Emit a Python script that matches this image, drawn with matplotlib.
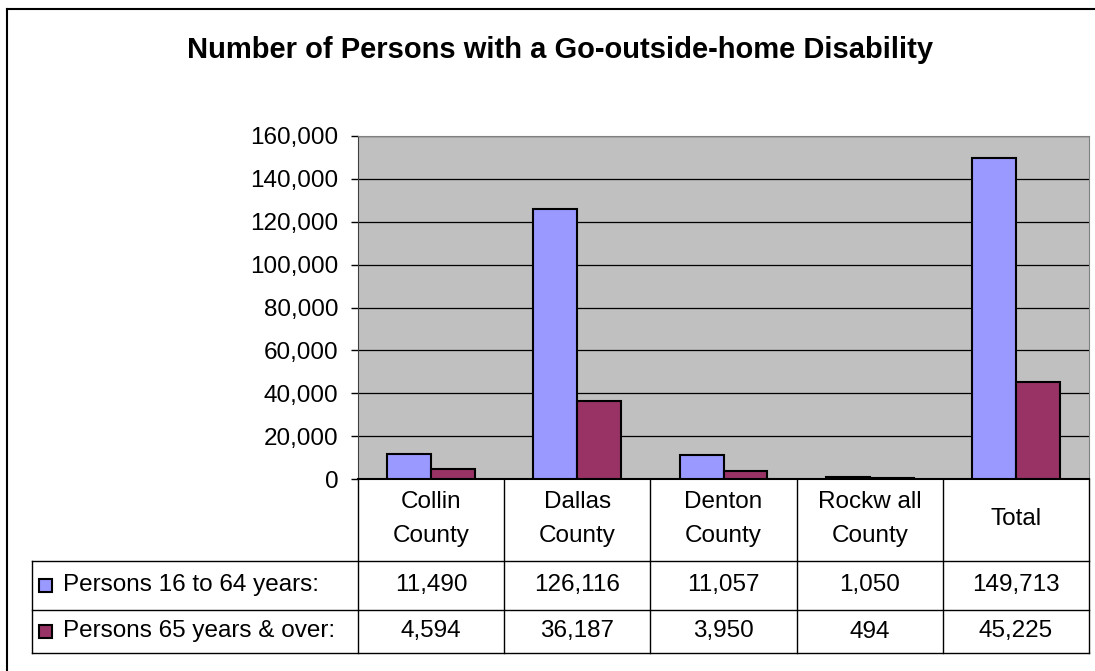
import numpy as np
import matplotlib.pyplot as plt
from matplotlib.patches import Rectangle

plt.rcParams['font.family'] = ['Liberation Sans', 'DejaVu Sans']

# data
categories = ['Collin\nCounty', 'Dallas\nCounty', 'Denton\nCounty', 'Rockw all\nCounty', 'Total']
series_names = ['Persons 16 to 64 years:', 'Persons 65 years & over:']
persons_16_64 = [11490, 126116, 11057, 1050, 149713]
persons_65_over = [4594, 36187, 3950, 494, 45225]
colors = ['#9999FF', '#993366']
yticks = np.arange(0, 160001, 20000)

W, H = 1095, 671
FS = 17.5
fig = plt.figure(figsize=(W / 100, H / 100), dpi=100)


def box(x0, y0, x1, y1):
    # pixel box (top-left origin) -> figure fraction rect
    return [x0 / W, 1 - y1 / H, (x1 - x0) / W, (y1 - y0) / H]


# overlay in pixel coords for border, title and table lines
ov = fig.add_axes([0, 0, 1, 1], zorder=0)
ov.set_xlim(0, W)
ov.set_ylim(H, 0)
ov.axis('off')

# plot area
PL, PT, PR, PB = 358, 136, 1089, 479
ax = fig.add_axes(box(PL, PT, PR, PB), zorder=2)
n = len(categories)
x = np.arange(n)
bw = 0.3
ax.bar(x - bw / 2, persons_16_64, bw, color=colors[0], edgecolor='black', linewidth=1.5, zorder=3)
ax.bar(x + bw / 2, persons_65_over, bw, color=colors[1], edgecolor='black', linewidth=1.5, zorder=3)
ax.set_xlim(-0.5, n - 0.5)
ax.set_ylim(0, 160000)
ax.set_facecolor('#C0C0C0')
ax.set_yticks(yticks)
ax.set_yticklabels([f'{v:,}' for v in yticks], fontsize=FS)
ax.yaxis.grid(True, color='black', linewidth=0.9)
ax.set_axisbelow(True)
ax.set_xticks([])
ax.tick_params(axis='y', length=5, width=1, pad=9, colors='black')
ax.spines['top'].set_color('#808080')
ax.spines['right'].set_color('#808080')
ax.spines['left'].set_color('#404040')
ax.spines['bottom'].set_color('black')
ax.spines['bottom'].set_linewidth(1.5)

# outer chart border
ov.plot([7, W], [9, 9], color='black', lw=1.5)
ov.plot([7, 7], [9, H], color='black', lw=1.5)

# title
ov.text(560, 58, 'Number of Persons with a Go-outside-home Disability',
        ha='center', va='baseline', fontsize=21, fontweight='bold')

# data table
TL, HB, R1, TB = 32, 561, 610, 653
colw = (PR - PL) / n
lc = dict(color='black', lw=1)
for yy in (HB, R1, TB):
    ov.plot([TL, PR], [yy, yy], **lc)
ov.plot([TL, TL], [HB, TB], **lc)
for k in range(n + 1):
    xx = PL + k * colw
    ov.plot([xx, xx], [PB, TB], **lc)

row_y = [(HB + R1) / 2, (R1 + TB) / 2]
for i, cat in enumerate(categories):
    cx = PL + (i + 0.5) * colw
    ov.text(cx, (PB + HB) / 2 - 1, cat, ha='center', va='center', fontsize=FS, linespacing=1.65)
    ov.text(cx, row_y[0], f'{persons_16_64[i]:,}', ha='center', va='center', fontsize=FS)
    ov.text(cx, row_y[1], f'{persons_65_over[i]:,}', ha='center', va='center', fontsize=FS)

for j, name in enumerate(series_names):
    ov.add_patch(Rectangle((39, row_y[j] - 6.5), 13, 13, facecolor=colors[j],
                           edgecolor='black', lw=1.5))
    ov.text(63, row_y[j], name, ha='left', va='center', fontsize=FS)

fig.savefig('out.png', dpi=100)
